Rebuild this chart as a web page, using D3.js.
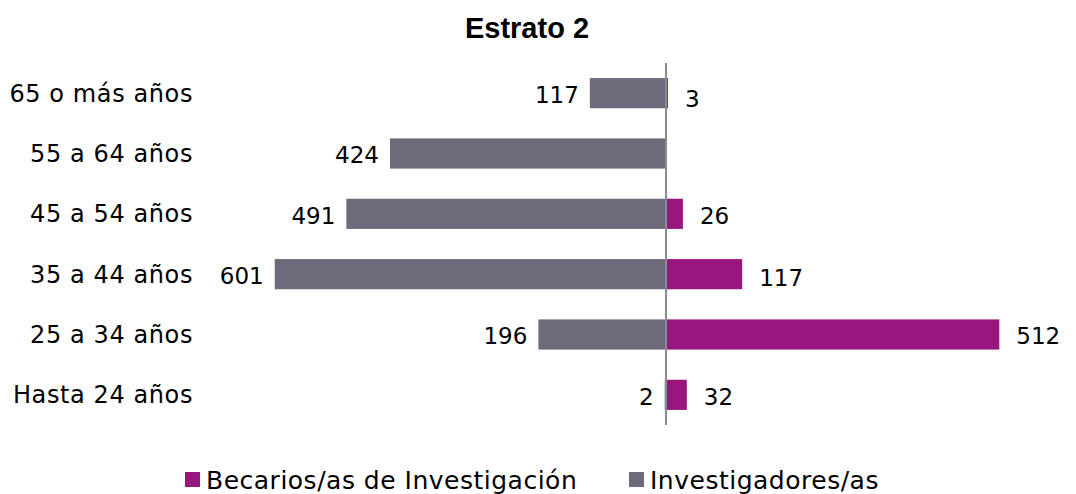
<!DOCTYPE html>
<html><head><meta charset="utf-8">
<script src="https://cdn.jsdelivr.net/npm/d3@7"></script>
<style>body{margin:0;background:#fff}</style>
</head><body>
<svg id="c" width="1076" height="494"></svg>
<script>
const categories = ["65 o más años","55 a 64 años","45 a 54 años","35 a 44 años","25 a 34 años","Hasta 24 años"];
const investigadores = [117,424,491,601,196,2];
const becarios = [3,0,26,117,512,32];
const seriesNames = ["Becarios/as de Investigación","Investigadores/as"];
const colors = {bec:"#97177f", inv:"#6e6a7b"};
const FONT = "'DejaVu Sans', sans-serif";

const svg = d3.select("#c");
const x0 = 666, k = 0.651;
const x = d3.scaleLinear().domain([-700,700]).range([x0-700*k, x0+700*k]);
const y = d3.scaleBand().domain(categories).range([63,425]).paddingInner(0.5).paddingOuter(0.25);

svg.append("text").attr("x",527).attr("y",38).attr("text-anchor","middle")
  .attr("font-family","'Liberation Sans', Arial, sans-serif").attr("font-weight","bold").attr("font-size",29).text("Estrato 2");

const g = svg.append("g");
categories.forEach((c,i)=>{
  const cy = y(c)+y.bandwidth()/2;
  g.append("rect").attr("x",x(-investigadores[i])).attr("y",y(c)).attr("width",x(0)-x(-investigadores[i])).attr("height",y.bandwidth()).attr("fill",colors.inv);
  if (becarios[i]>0) g.append("rect").attr("x",x(0)).attr("y",y(c)).attr("width",x(becarios[i])-x(0)).attr("height",y.bandwidth()).attr("fill",colors.bec);
  g.append("text").attr("x",x(-investigadores[i])-11).attr("y",cy+1.5).attr("dy","0.36em").attr("text-anchor","end")
    .attr("font-family",FONT).attr("font-size",23).attr("fill","#000").text(investigadores[i]);
  if (becarios[i]>0) g.append("text").attr("x",x(becarios[i])+17).attr("y",cy+ (i===0?6:(i===3?4:1.5))).attr("dy","0.36em")
    .attr("font-family",FONT).attr("font-size",23).attr("fill","#000").text(becarios[i]);
  g.append("text").attr("x",193).attr("y",cy).attr("dy","0.36em").attr("text-anchor","end")
    .attr("font-family",FONT).attr("font-size",24).attr("letter-spacing",0.6).attr("fill","#000").text(c);
});
svg.append("line").attr("x1",x(0)).attr("x2",x(0)).attr("y1",63).attr("y2",425).attr("stroke","#8c8c8c").attr("stroke-width",2);

const leg = [{n:seriesNames[0],c:colors.bec,x:185},{n:seriesNames[1],c:colors.inv,x:629}];
leg.forEach(l=>{
  svg.append("rect").attr("x",l.x).attr("y",472).attr("width",15).attr("height",15).attr("fill",l.c);
  svg.append("text").attr("x",l.x+21).attr("y",489).attr("font-family",FONT).attr("font-size",25).attr("letter-spacing",0.5).text(l.n);
});
</script>
</body></html>
